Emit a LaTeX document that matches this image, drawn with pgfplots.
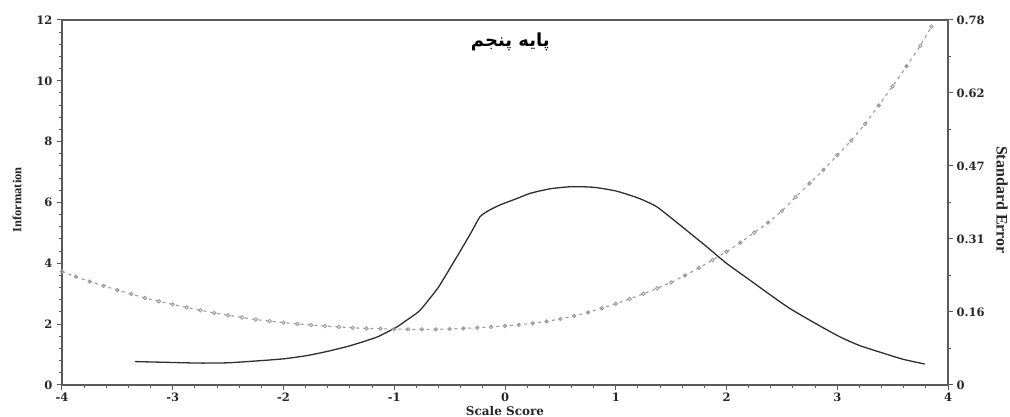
\documentclass[border=0pt]{standalone}
\usepackage{pgfplots}
\pgfplotsset{compat=1.18}
\usepackage{pgfplotstable}
\usepackage{fontspec}
\setmainfont{Liberation Serif}
\newfontfamily\tickfont{DejaVu Serif}
\newfontfamily\arabicfont[Script=Arabic]{DejaVu Sans}
\TeXXeTstate=1
\definecolor{axgray}{HTML}{5A5A5A}
\definecolor{curvecol}{HTML}{2E2E2E}
\definecolor{secol}{HTML}{9A9A9A}

\pgfplotstableread{
x y
-3.34 0.77
-3.00 0.74
-2.75 0.72
-2.50 0.73
-2.21 0.80
-2.00 0.86
-1.80 0.96
-1.61 1.10
-1.40 1.29
-1.16 1.57
-0.98 1.90
-0.90 2.10
-0.78 2.41
-0.70 2.75
-0.60 3.22
-0.47 4.00
-0.38 4.55
-0.30 5.05
-0.226 5.53
-0.15 5.73
-0.045 5.92
0.10 6.12
0.226 6.30
0.406 6.45
0.60 6.52
0.80 6.50
1.00 6.38
1.20 6.15
1.37 5.86
1.60 5.20
1.82 4.55
2.00 4.00
2.21 3.45
2.40 2.95
2.57 2.52
2.80 2.03
3.02 1.59
3.20 1.30
3.42 1.04
3.60 0.84
3.79 0.69
}\infotable

\pgfplotstableread{
x y
-4.000 0.2425
-3.875 0.2314
-3.750 0.2210
-3.625 0.2119
-3.500 0.2028
-3.375 0.1944
-3.250 0.1859
-3.125 0.1788
-3.000 0.1723
-2.875 0.1658
-2.750 0.1599
-2.625 0.1541
-2.500 0.1489
-2.375 0.1443
-2.250 0.1398
-2.125 0.1365
-2.000 0.1333
-1.875 0.1307
-1.750 0.1281
-1.625 0.1261
-1.500 0.1242
-1.375 0.1222
-1.250 0.1209
-1.125 0.1203
-1.000 0.1196
-0.875 0.1190
-0.750 0.1190
-0.625 0.1190
-0.500 0.1196
-0.375 0.1209
-0.250 0.1222
-0.125 0.1242
0.000 0.1261
0.125 0.1287
0.250 0.1320
0.375 0.1359
0.500 0.1411
0.625 0.1476
0.750 0.1554
0.875 0.1638
1.000 0.1736
1.125 0.1840
1.250 0.1950
1.375 0.2067
1.500 0.2191
1.625 0.2340
1.750 0.2503
1.875 0.2672
2.000 0.2847
2.125 0.3042
2.250 0.3257
2.375 0.3471
2.500 0.3718
2.625 0.4017
2.750 0.4310
2.875 0.4596
3.000 0.4908
3.125 0.5220
3.250 0.5577
3.375 0.5974
3.500 0.6383
3.625 0.6812
3.750 0.7248
3.850 0.7657
}\setable

\begin{document}
\begin{tikzpicture}
\useasboundingbox (-62pt,-32pt) rectangle (948pt,385pt);
\begin{axis}[
  scale only axis, width=886pt, height=365pt,
  xmin=-4, xmax=4, ymin=0, ymax=12,
  axis lines=box,
  axis line style={axgray, line width=1.6pt},
  xtick={-4,-3,-2,-1,0,1,2,3,4},
  xticklabels={-4,-3,-2,-1,0,1,2,3,4},
  ytick={0,2,4,6,8,10,12},
  yticklabels={0,2,4,6,8,10,12},
  minor x tick num=4, minor y tick num=4,
  xtick pos=bottom, ytick pos=left,
  tick align=outside,
  major tick length=5pt, minor tick length=3pt,
  every tick/.style={axgray, line width=1pt},
  ticklabel style={font=\tickfont\bfseries\fontsize{11.5}{13}\selectfont, text=black!85},
  yticklabel style={xshift=-1pt},
  xticklabel style={yshift=1pt},
  xlabel={\tickfont\bfseries\fontsize{12}{14}\selectfont Scale Score},
  xlabel style={at={(axis description cs:0.5,-0.0705)}, anchor=center, text=black!85},
  ylabel={\bfseries\fontsize{12.5}{14}\selectfont Information},
  ylabel style={at={(axis description cs:-0.0508,0.507)}, anchor=center, text=black!85},
  clip=false,
]
\addplot[curvecol, line width=1.3pt, no marks, smooth, tension=0.35] table[x=x,y=y] {\infotable};
\node[font=\arabicfont\bfseries\fontsize{18}{20}\selectfont, text=black] at (rel axis cs:0.506,0.94) {\beginR پایه پنجم\endR};
\end{axis}
\begin{axis}[
  scale only axis, width=886pt, height=365pt,
  xmin=-4, xmax=4, ymin=0, ymax=0.78,
  axis x line=none, axis y line*=right,
  axis line style={axgray, line width=1.6pt},
  ytick={0,0.156,0.312,0.468,0.624,0.78},
  yticklabels={0,0.16,0.31,0.47,0.62,0.78},
  minor y tick num=1,
  tick align=outside,
  major tick length=5pt, minor tick length=3pt,
  every tick/.style={axgray, line width=1pt},
  ticklabel style={font=\tickfont\bfseries\fontsize{11.5}{13}\selectfont, text=black!85},
  ylabel={\bfseries\fontsize{16}{18}\selectfont Standard Error},
  ylabel style={at={(axis description cs:1.061,0.507)}, anchor=center, rotate=-180, text=black!85},
  clip=false,
]
\addplot[secol, line width=1.1pt, dash pattern=on 3pt off 4pt, mark=o, mark size=1.7pt, mark options={solid, secol, line width=0.9pt}] table[x=x,y=y] {\setable};
\end{axis}
\end{tikzpicture}
\end{document}
